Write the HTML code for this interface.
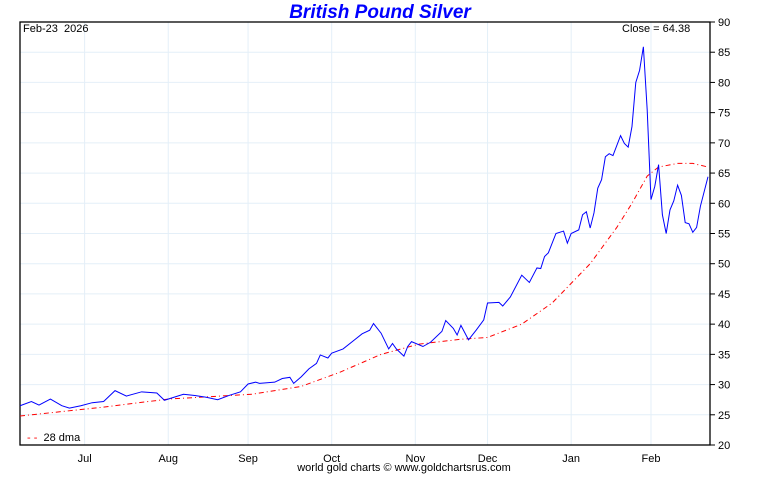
<!DOCTYPE html>
<html><head><meta charset="utf-8"><style>
body{margin:0;background:#fff;width:760px;height:475px;overflow:hidden;font-family:"Liberation Sans",sans-serif}
</style></head><body>
<svg id="c" width="760" height="475" xmlns="http://www.w3.org/2000/svg"></svg>
<script>
const monthLabels=["Jul","Aug","Sep","Oct","Nov","Dec","Jan","Feb"];
const monthIdx=[17,39,60,82,104,123,145,166];
const yTicks=[20,25,30,35,40,45,50,55,60,65,70,75,80,85,90];
const priceIdx=[0,3,5,8,11,13,16,19,22,25,28,32,36,38,43,46,49,52,55,58,60,62,63,67,69,71,72,74,76,78,79,81,82,85,88,90,92,93,95,97,98,99,101,102,103,106,108,111,112,114,115,116,118,120,122,123,126,127,129,132,134,136,137,138,139,141,143,144,145,147,148,149,150,151,152,153,154,155,156,158,159,160,161,162,163,164,165,166,167,168,169,170,171,172,173,174,175,176,177,178,179,181];
const priceVal=[26.5,27.2,26.6,27.6,26.5,26.1,26.5,27.0,27.2,29.0,28.1,28.8,28.6,27.4,28.4,28.2,27.9,27.5,28.2,28.8,30.1,30.4,30.2,30.4,31.0,31.2,30.2,31.3,32.6,33.5,34.9,34.4,35.2,35.9,37.4,38.4,39.0,40.1,38.5,35.9,36.8,35.9,34.7,36.3,37.1,36.3,37.0,38.8,40.6,39.3,38.2,39.8,37.4,39.0,40.7,43.5,43.6,43.0,44.5,48.1,46.9,49.3,49.2,51.2,51.8,55.0,55.4,53.4,55.0,55.6,58.1,58.6,55.9,58.4,62.5,63.9,67.7,68.2,67.9,71.2,69.9,69.3,72.7,80.0,82.0,85.9,75.5,60.6,62.8,66.4,58.1,55.0,58.9,60.4,63.0,61.3,56.8,56.6,55.2,56.0,59.5,64.4];
const maIdx=[0,21,39,61,74,84,95,105,116,123,132,140,150,157,161,165,168,173,177,181];
const maVal=[24.8,26.2,27.6,28.4,29.7,32,35,36.7,37.5,37.8,40,43.5,50,56,60,64.5,66,66.6,66.6,66];
const L=20,R=708,T=22,B=445,NMAX=181;
const xs=i=>L+i*(R-L)/NMAX, ys=v=>B-(v-20)*(B-T)/70;
const svg=document.getElementById('c');const NS="http://www.w3.org/2000/svg";
function mk(t,a,txt){const e=document.createElementNS(NS,t);for(const k in a)e.setAttribute(k,a[k]);if(txt!=null)e.textContent=txt;svg.appendChild(e);return e;}
yTicks.forEach(v=>{const g=mk('line',{x1:L,x2:710,y1:ys(v),y2:ys(v),stroke:'#e4eff8','stroke-width':1});


const tk=mk('line',{x1:710,x2:715,y1:ys(v),y2:ys(v),stroke:'#000'});


const t=mk('text',{x:718,y:ys(v)+4,'font-size':11,fill:'#000'},String(v));

});
monthIdx.forEach((m,i)=>{const x=xs(m);const g=mk('line',{x1:x,x2:x,y1:T,y2:B,stroke:'#e4eff8'});


const t=mk('text',{x:x,y:462,'font-size':11,'text-anchor':'middle'},monthLabels[i]);

});
const fr=mk('rect',{x:L,y:T,width:710-L,height:B-T,fill:'none',stroke:'#000','stroke-width':1.3});


const ma=mk('polyline',{points:maIdx.map((d,i)=>xs(d)+','+ys(maVal[i])).join(' '),fill:'none',stroke:'#f00','stroke-width':1,'stroke-dasharray':'5,3,1,3'});


const pl=mk('polyline',{points:priceIdx.map((d,i)=>xs(d)+','+ys(priceVal[i])).join(' '),fill:'none',stroke:'#0000ff','stroke-width':1});


</script>
<div style="position:absolute;left:0;top:2px;width:760px;text-align:center;color:#0000ff;font-weight:bold;font-style:italic;font-size:19px">British Pound Silver</div>
<div style="position:absolute;left:23px;top:23px;font-size:11px">Feb-23&nbsp; 2026</div>
<div style="position:absolute;left:622px;top:23px;font-size:11px">Close = 64.38</div>
<div style="position:absolute;left:27px;top:432px;font-size:11px"><span style="color:#f00">- -</span>&nbsp; 28 dma</div>
<div style="position:absolute;left:0;top:462px;width:808px;text-align:center;font-size:11px">world gold charts © www.goldchartsrus.com</div>
</body></html>
